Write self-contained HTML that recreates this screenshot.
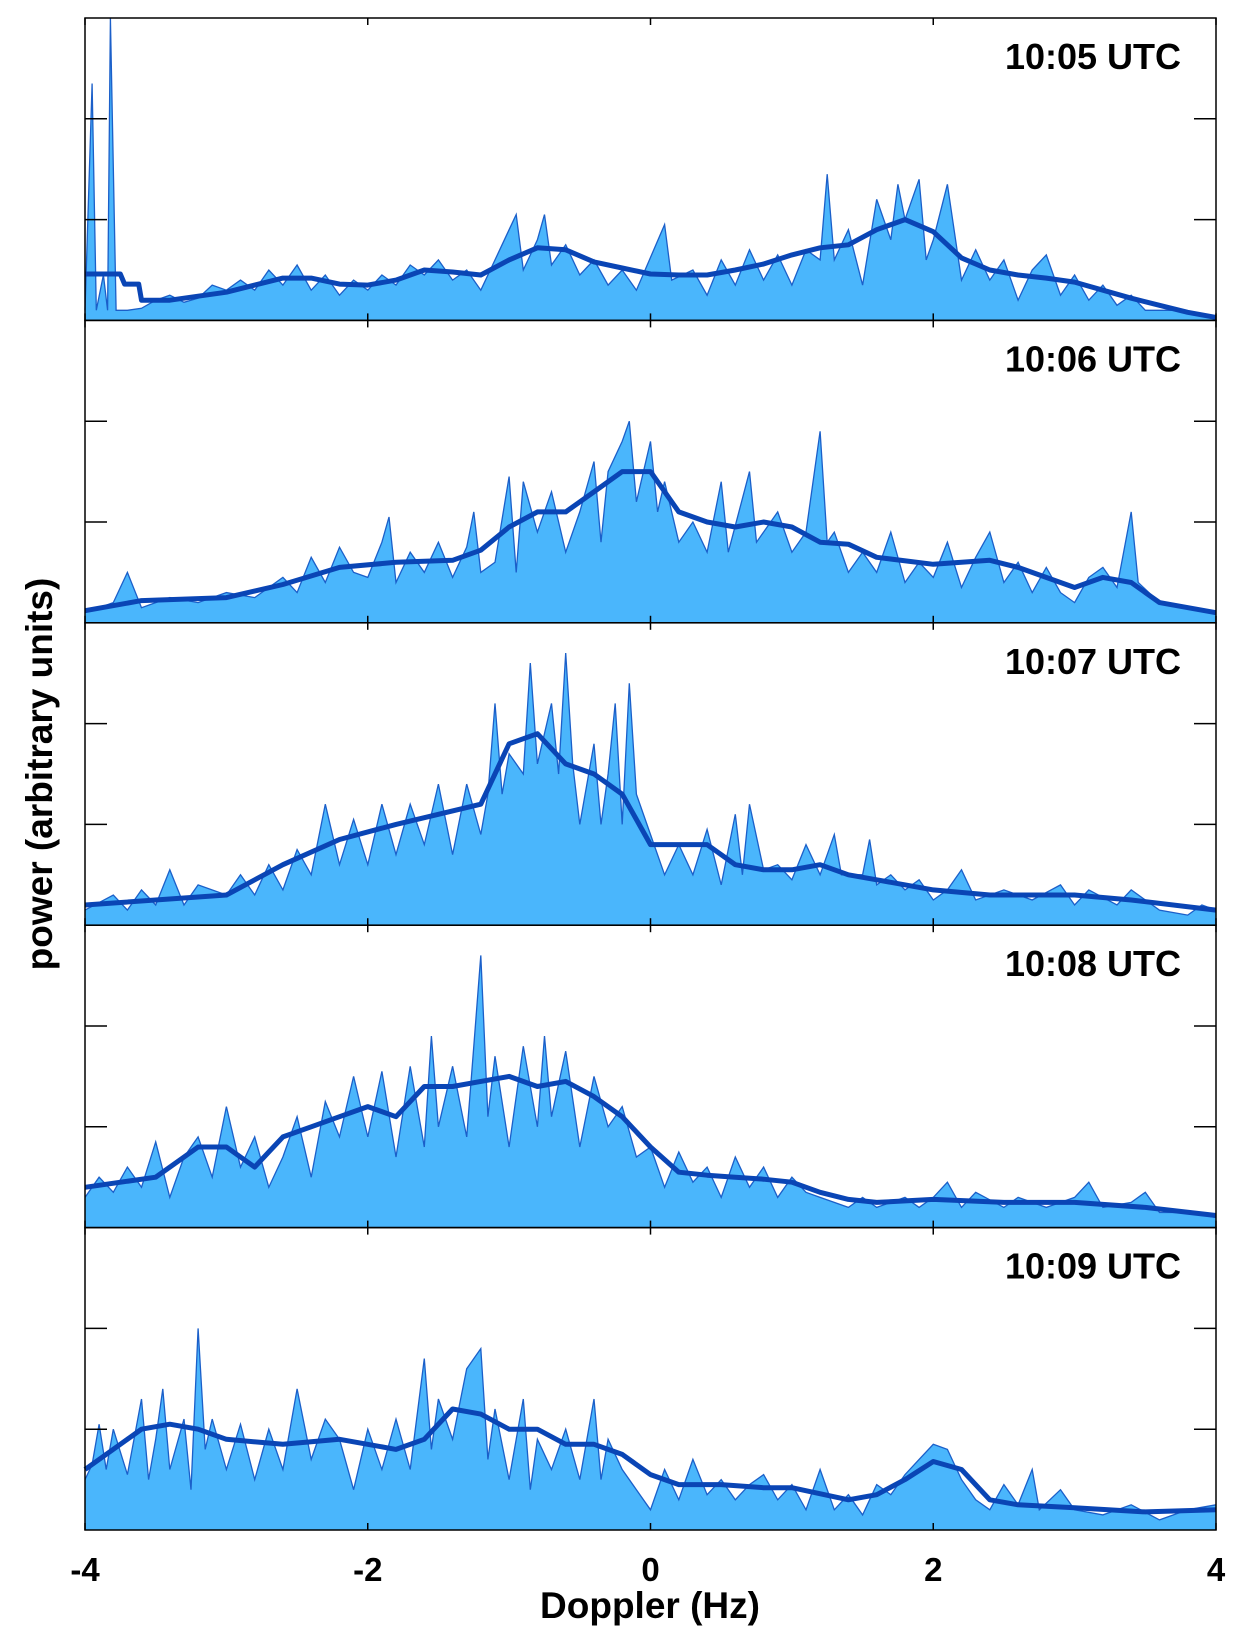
<!DOCTYPE html>
<html><head><meta charset="utf-8"><style>
html,body{margin:0;padding:0;background:#fff;}
svg{display:block;font-family:"Liberation Sans",sans-serif;}
</style></head><body>
<svg id="chart" width="1245" height="1644" viewBox="0 0 1245 1644" xmlns="http://www.w3.org/2000/svg"></svg>
<script>
const panelLabels = ["10:05 UTC","10:06 UTC","10:07 UTC","10:08 UTC","10:09 UTC"];
const xTicks = [-4,-2,0,2,4];
const yTicks = [1,2];
const raw0 = [[-4,.1],[-3.95,2.35],[-3.92,.1],[-3.87,.45],[-3.84,.1],[-3.82,3.1],[-3.78,.1],[-3.7,.1],[-3.6,.12],[-3.5,.2],[-3.4,.25],[-3.3,.18],[-3.2,.22],[-3.1,.35],[-3.0,.3],[-2.9,.4],[-2.8,.3],[-2.7,.5],[-2.6,.35],[-2.5,.55],[-2.4,.3],[-2.3,.45],[-2.2,.25],[-2.1,.4],[-2.0,.3],[-1.9,.45],[-1.8,.35],[-1.7,.55],[-1.6,.45],[-1.5,.6],[-1.4,.4],[-1.3,.5],[-1.2,.3],[-1.1,.6],[-1.0,.9],[-0.95,1.05],[-0.9,.5],[-0.8,.8],[-0.75,1.05],[-0.7,.55],[-0.6,.75],[-0.5,.45],[-0.4,.6],[-0.3,.35],[-0.2,.5],[-0.1,.3],[0.1,.95],[0.15,.4],[0.3,.5],[0.4,.25],[0.5,.6],[0.6,.35],[0.7,.7],[0.8,.4],[0.9,.65],[1.0,.35],[1.1,.7],[1.2,.6],[1.25,1.45],[1.3,.6],[1.4,.9],[1.5,.35],[1.6,1.2],[1.7,.8],[1.75,1.35],[1.8,1.0],[1.9,1.4],[1.95,.6],[2.0,.8],[2.1,1.35],[2.2,.4],[2.3,.7],[2.4,.4],[2.5,.6],[2.6,.2],[2.7,.5],[2.8,.65],[2.9,.25],[3.0,.45],[3.1,.2],[3.2,.35],[3.3,.15],[3.4,.25],[3.5,.1],[3.7,.1],[3.9,.05],[4,.02]];
const raw1 = [[-4,.1],[-3.8,.2],[-3.7,.5],[-3.6,.15],[-3.4,.25],[-3.2,.2],[-3.0,.3],[-2.8,.25],[-2.6,.45],[-2.5,.3],[-2.4,.65],[-2.3,.4],[-2.2,.75],[-2.1,.5],[-2.0,.45],[-1.9,.8],[-1.85,1.05],[-1.8,.4],[-1.7,.7],[-1.6,.5],[-1.5,.8],[-1.4,.45],[-1.3,.75],[-1.25,1.1],[-1.2,.5],[-1.1,.6],[-1.0,1.45],[-0.95,.5],[-0.9,1.4],[-0.8,.9],[-0.7,1.3],[-0.6,.7],[-0.5,1.1],[-0.4,1.6],[-0.35,.8],[-0.3,1.5],[-0.2,1.8],[-0.15,2.0],[-0.1,1.2],[0,1.8],[0.05,1.1],[0.1,1.4],[0.2,.8],[0.3,1.0],[0.4,.7],[0.5,1.4],[0.55,.7],[0.7,1.5],[0.75,.8],[0.9,1.1],[1.0,.7],[1.1,.9],[1.2,1.9],[1.25,.8],[1.3,.9],[1.4,.5],[1.5,.7],[1.6,.5],[1.7,.9],[1.8,.4],[1.9,.6],[2.0,.45],[2.1,.8],[2.2,.35],[2.3,.65],[2.4,.9],[2.5,.4],[2.6,.6],[2.7,.3],[2.8,.55],[2.9,.3],[3.0,.2],[3.1,.45],[3.2,.55],[3.3,.35],[3.4,1.1],[3.45,.4],[3.6,.2],[3.8,.15],[4,.1]];
const raw2 = [[-4,.15],[-3.8,.3],[-3.7,.15],[-3.6,.35],[-3.5,.2],[-3.4,.55],[-3.3,.2],[-3.2,.4],[-3.0,.3],[-2.9,.5],[-2.8,.3],[-2.7,.6],[-2.6,.35],[-2.5,.75],[-2.4,.5],[-2.3,1.2],[-2.2,.6],[-2.1,1.05],[-2.0,.6],[-1.9,1.2],[-1.8,.7],[-1.7,1.2],[-1.6,.8],[-1.5,1.4],[-1.4,.7],[-1.3,1.4],[-1.2,.9],[-1.15,1.3],[-1.1,2.2],[-1.05,1.3],[-1.0,1.7],[-0.9,1.5],[-0.85,2.6],[-0.8,1.6],[-0.7,2.2],[-0.65,1.5],[-0.6,2.7],[-0.55,1.6],[-0.5,1.0],[-0.4,1.8],[-0.35,1.0],[-0.3,1.5],[-0.25,2.2],[-0.2,1.0],[-0.15,2.4],[-0.1,1.3],[0,.9],[0.1,.5],[0.2,.8],[0.3,.5],[0.4,.95],[0.5,.4],[0.6,1.1],[0.65,.5],[0.7,1.2],[0.8,.55],[0.9,.6],[1.0,.45],[1.1,.8],[1.2,.5],[1.3,.9],[1.35,.5],[1.5,.5],[1.55,.85],[1.6,.4],[1.7,.5],[1.8,.35],[1.9,.45],[2.0,.25],[2.1,.35],[2.2,.55],[2.3,.25],[2.5,.35],[2.7,.25],[2.9,.4],[3.0,.2],[3.1,.35],[3.3,.2],[3.4,.35],[3.6,.15],[3.8,.1],[3.9,.2],[4,.15]];
const raw3 = [[-4,.3],[-3.9,.5],[-3.8,.35],[-3.7,.6],[-3.6,.4],[-3.5,.85],[-3.4,.3],[-3.3,.7],[-3.2,.9],[-3.1,.5],[-3.0,1.2],[-2.9,.6],[-2.8,.9],[-2.7,.4],[-2.6,.7],[-2.5,1.1],[-2.4,.5],[-2.3,1.25],[-2.2,.9],[-2.1,1.5],[-2.0,.9],[-1.9,1.55],[-1.8,.7],[-1.7,1.6],[-1.6,.8],[-1.55,1.9],[-1.5,1.0],[-1.4,1.6],[-1.3,.9],[-1.25,1.8],[-1.2,2.7],[-1.15,1.1],[-1.1,1.7],[-1.0,.8],[-0.9,1.8],[-0.8,1.0],[-0.75,1.9],[-0.7,1.1],[-0.6,1.75],[-0.5,.8],[-0.4,1.5],[-0.3,1.0],[-0.2,1.2],[-0.1,.7],[0,.8],[0.1,.4],[0.2,.75],[0.3,.45],[0.4,.6],[0.5,.3],[0.6,.7],[0.7,.4],[0.8,.6],[0.9,.3],[1.0,.5],[1.1,.35],[1.2,.3],[1.4,.2],[1.5,.3],[1.6,.2],[1.8,.3],[1.9,.2],[2.0,.3],[2.1,.45],[2.2,.2],[2.3,.35],[2.5,.2],[2.6,.3],[2.8,.2],[3.0,.3],[3.1,.45],[3.2,.2],[3.4,.25],[3.5,.35],[3.6,.15],[3.8,.15],[4,.1]];
const raw4 = [[-4,.5],[-3.95,.65],[-3.9,1.05],[-3.85,.6],[-3.8,1.0],[-3.7,.55],[-3.6,1.3],[-3.55,.5],[-3.5,.9],[-3.45,1.4],[-3.4,.6],[-3.3,1.1],[-3.25,.4],[-3.2,2.0],[-3.15,.8],[-3.1,1.1],[-3.0,.6],[-2.9,1.05],[-2.8,.5],[-2.7,1.0],[-2.6,.6],[-2.5,1.4],[-2.4,.7],[-2.3,1.1],[-2.2,.9],[-2.1,.4],[-2.0,1.0],[-1.9,.6],[-1.8,1.1],[-1.7,.6],[-1.6,1.7],[-1.55,.8],[-1.5,1.3],[-1.4,.9],[-1.3,1.6],[-1.2,1.8],[-1.15,.7],[-1.1,1.2],[-1.0,.5],[-0.9,1.3],[-0.85,.4],[-0.8,.9],[-0.7,.6],[-0.6,1.0],[-0.5,.5],[-0.4,1.3],[-0.35,.5],[-0.3,.9],[-0.2,.6],[-0.1,.4],[0,.2],[0.1,.6],[0.2,.3],[0.3,.7],[0.4,.35],[0.5,.5],[0.6,.3],[0.7,.45],[0.8,.55],[0.9,.3],[1.0,.45],[1.1,.2],[1.2,.6],[1.3,.2],[1.4,.35],[1.5,.15],[1.6,.45],[1.7,.35],[1.8,.55],[1.9,.7],[2.0,.85],[2.1,.8],[2.2,.5],[2.3,.3],[2.4,.2],[2.5,.45],[2.6,.25],[2.7,.6],[2.75,.2],[2.9,.4],[3.0,.2],[3.2,.15],[3.4,.25],[3.6,.1],[3.8,.2],[4,.25]];
const smooth0 = [[-4,.46],[-3.75,.46],[-3.72,.36],[-3.62,.36],[-3.6,.2],[-3.4,.2],[-3.2,.24],[-3.0,.28],[-2.8,.35],[-2.6,.42],[-2.4,.42],[-2.2,.36],[-2.0,.35],[-1.8,.4],[-1.6,.5],[-1.4,.48],[-1.2,.45],[-1.0,.6],[-0.8,.72],[-0.6,.7],[-0.4,.58],[-0.2,.52],[0,.46],[0.2,.45],[0.4,.45],[0.6,.5],[0.8,.56],[1.0,.65],[1.2,.72],[1.4,.75],[1.6,.9],[1.8,1.0],[2.0,.88],[2.2,.62],[2.4,.5],[2.6,.45],[2.8,.42],[3.0,.38],[3.2,.3],[3.4,.22],[3.6,.15],[3.8,.08],[4,.03]];
const smooth1 = [[-4,.12],[-3.6,.22],[-3,.25],[-2.6,.38],[-2.2,.55],[-1.8,.6],[-1.4,.62],[-1.2,.72],[-1.0,.95],[-0.8,1.1],[-0.6,1.1],[-0.4,1.3],[-0.2,1.5],[0,1.5],[0.2,1.1],[0.4,1.0],[0.6,.95],[0.8,1.0],[1.0,.95],[1.2,.8],[1.4,.78],[1.6,.65],[2.0,.58],[2.4,.62],[2.6,.55],[3.0,.35],[3.2,.45],[3.4,.4],[3.6,.2],[4,.1]];
const smooth2 = [[-4,.2],[-3,.3],[-2.6,.6],[-2.2,.85],[-1.8,1.0],[-1.5,1.1],[-1.2,1.2],[-1.0,1.8],[-0.8,1.9],[-0.6,1.6],[-0.4,1.5],[-0.2,1.3],[0,.8],[0.2,.8],[0.4,.8],[0.6,.6],[0.8,.55],[1.0,.55],[1.2,.6],[1.4,.5],[1.6,.45],[2.0,.35],[2.4,.3],[3.0,.3],[3.4,.25],[4,.15]];
const smooth3 = [[-4,.4],[-3.5,.5],[-3.2,.8],[-3,.8],[-2.8,.6],[-2.6,.9],[-2.4,1.0],[-2.2,1.1],[-2,1.2],[-1.8,1.1],[-1.6,1.4],[-1.4,1.4],[-1.2,1.45],[-1.0,1.5],[-0.8,1.4],[-0.6,1.45],[-0.4,1.3],[-0.2,1.1],[0,.8],[0.2,.55],[0.4,.52],[0.6,.5],[0.8,.48],[1.0,.45],[1.2,.35],[1.4,.28],[1.6,.25],[2,.28],[2.5,.25],[3,.25],[3.5,.2],[4,.12]];
const smooth4 = [[-4,.6],[-3.6,1.0],[-3.4,1.05],[-3.2,1.0],[-3.0,.9],[-2.6,.85],[-2.2,.9],[-1.8,.8],[-1.6,.9],[-1.4,1.2],[-1.2,1.15],[-1.0,1.0],[-0.8,1.0],[-0.6,.85],[-0.4,.85],[-0.2,.75],[0,.55],[0.2,.45],[0.5,.45],[0.8,.42],[1.0,.42],[1.4,.3],[1.6,.35],[1.8,.5],[2.0,.68],[2.2,.6],[2.4,.3],[2.6,.25],[3.0,.22],[3.5,.18],[4,.2]];
const rawSeries = [raw0,raw1,raw2,raw3,raw4];
const smoothSeries = [smooth0,smooth1,smooth2,smooth3,smooth4];

const NS = "http://www.w3.org/2000/svg";
const svg = document.getElementById('chart');
const L = 85, R = 1216, T = 18, B = 1530;
const PH = (B - T) / 5;
const YMAX = 3;
const xScale = v => L + (v + 4) / 8 * (R - L);
const yScale = (v, i) => T + (i + 1) * PH - Math.min(v, YMAX) / YMAX * PH;
function mk(tag, attrs) { const e = document.createElementNS(NS, tag); for (const k in attrs) e.setAttribute(k, attrs[k]); svg.appendChild(e); return e; }

for (let i = 0; i < 5; i++) {
  const top = T + i * PH, bot = top + PH;
  const raw = rawSeries[i];
  let d = `M${xScale(raw[0][0])},${bot}`;
  raw.forEach(p => d += ` L${xScale(p[0]).toFixed(1)},${yScale(p[1], i).toFixed(1)}`);
  d += ` L${xScale(raw[raw.length-1][0])},${bot} Z`;
  const area = mk('path', {d: d, fill: '#4ab6fc', stroke: 'none'});
  
  
  const ld = raw.map((p, k) => (k ? 'L' : 'M') + xScale(p[0]).toFixed(1) + ',' + yScale(p[1], i).toFixed(1)).join(' ');
  const outline = mk('path', {d: ld, fill: 'none', stroke: '#1b5fc9', 'stroke-width': 1.3});
  
  
  const sm = smoothSeries[i];
  const sd = sm.map((p, k) => (k ? 'L' : 'M') + xScale(p[0]).toFixed(1) + ',' + yScale(p[1], i).toFixed(1)).join(' ');
  const sline = mk('path', {d: sd, fill: 'none', stroke: '#0a45b5', 'stroke-width': 5, 'stroke-linejoin': 'round'});
  
  
  const frame = mk('rect', {x: L, y: top, width: R - L, height: PH, fill: 'none', stroke: '#000', 'stroke-width': 1.5});
  
  
  yTicks.forEach(t => {
    const y = yScale(t, i);
    const a = mk('line', {x1: L, x2: L + 22, y1: y, y2: y, stroke: '#000', 'stroke-width': 1.5});
    
    
    const b = mk('line', {x1: R - 22, x2: R, y1: y, y2: y, stroke: '#000', 'stroke-width': 1.5});
    
    
  });
  xTicks.forEach(t => {
    const x = xScale(t);
    const a = mk('line', {x1: x, x2: x, y1: top, y2: top + 7, stroke: '#000', 'stroke-width': 1.5});
    
    
    const b = mk('line', {x1: x, x2: x, y1: bot - 7, y2: bot, stroke: '#000', 'stroke-width': 1.5});
    
    
  });
  const lbl = mk('text', {x: 1181, y: top + 51, 'text-anchor': 'end', 'font-size': 36, 'font-weight': 'bold', fill: '#000'});
  lbl.textContent = panelLabels[i];
  
  
}
xTicks.forEach(t => {
  const tx = mk('text', {x: xScale(t), y: 1581, 'text-anchor': 'middle', 'font-size': 33, 'font-weight': 'bold', fill: '#000'});
  tx.textContent = t;
  
  
});
const xt = mk('text', {x: 650, y: 1618, 'text-anchor': 'middle', 'font-size': 37, 'font-weight': 'bold', fill: '#000'});
xt.textContent = 'Doppler (Hz)';


const yt = mk('text', {x: 0, y: 0, transform: 'translate(52,774) rotate(-90)', 'text-anchor': 'middle', 'font-size': 37, 'font-weight': 'bold', fill: '#000'});
yt.textContent = 'power (arbitrary units)';


</script>
</body></html>
